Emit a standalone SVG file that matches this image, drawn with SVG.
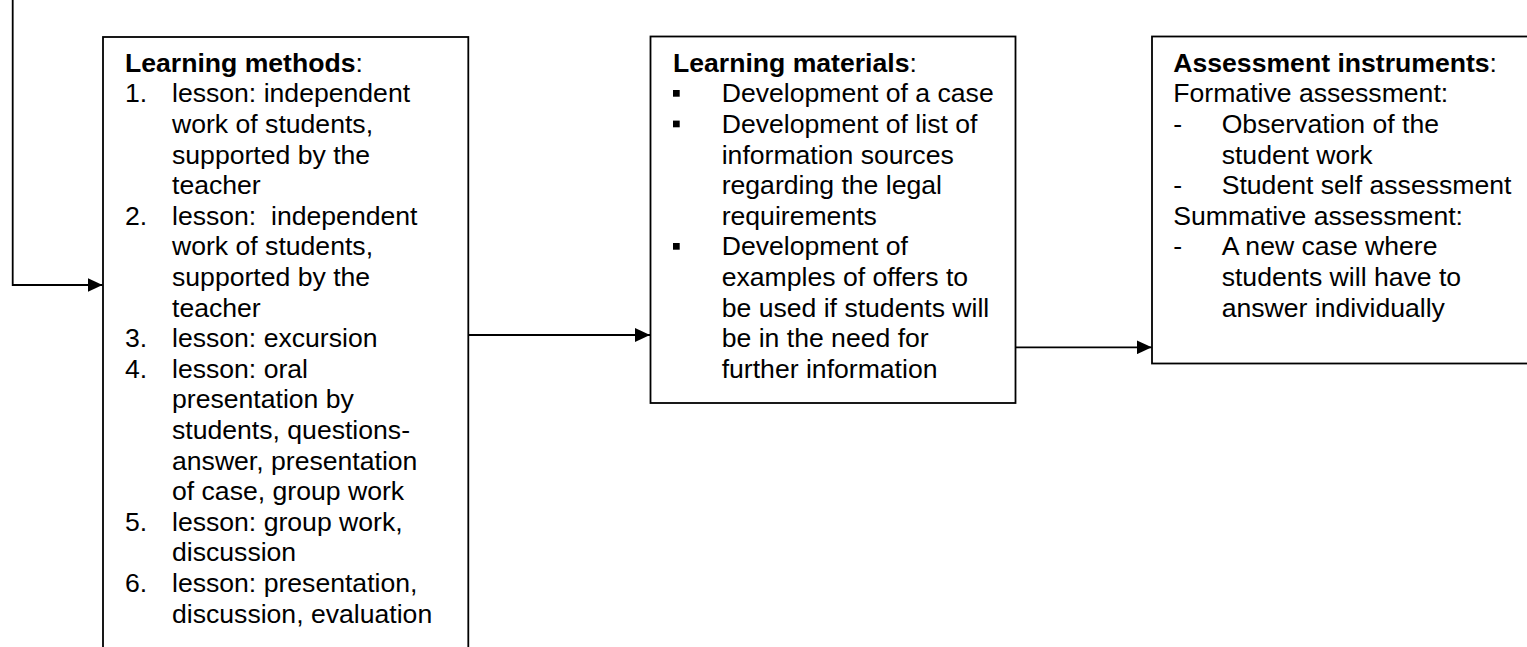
<svg xmlns="http://www.w3.org/2000/svg" width="1527" height="647" viewBox="0 0 1527 647">
<style>
.box{fill:#fff;stroke:#000;stroke-width:1.8}
.ln{fill:none;stroke:#000;stroke-width:1.8}
text{font-family:"Liberation Sans",Arial,sans-serif;font-size:26.6px;fill:#000}
.b{font-weight:bold}
.bul{fill:#000}
</style>
<defs>
<marker id="arr" markerWidth="15" markerHeight="14" refX="15" refY="7" orient="auto" markerUnits="userSpaceOnUse">
<path d="M0,0 L15,7 L0,14 Z" fill="#000"/>
</marker>
</defs>
<g id="connectors">
<path class="ln" d="M12.7,0 V285 H102.5" marker-end="url(#arr)"/>
<path class="ln" d="M468.3,335 H650" marker-end="url(#arr)"/>
<path class="ln" d="M1015.5,347.3 H1151.7" marker-end="url(#arr)"/>
</g>
<g id="learning-methods">
<rect class="box" x="103" y="37" width="365.3" height="640"/>
<text x="125" y="71.7"><tspan class="b">Learning methods</tspan>:</text>
<text x="125" y="102.3">1.</text><text x="172" y="102.3">lesson: independent</text>
<text x="172" y="132.9">work of students,</text>
<text x="172" y="163.5">supported by the</text>
<text x="172" y="194.1">teacher</text>
<text x="125" y="224.7">2.</text><text x="172" y="224.7" xml:space="preserve">lesson:  independent</text>
<text x="172" y="255.3">work of students,</text>
<text x="172" y="285.9">supported by the</text>
<text x="172" y="316.5">teacher</text>
<text x="125" y="347.1">3.</text><text x="172" y="347.1">lesson: excursion</text>
<text x="125" y="377.7">4.</text><text x="172" y="377.7">lesson: oral</text>
<text x="172" y="408.3">presentation by</text>
<text x="172" y="438.9">students, questions-</text>
<text x="172" y="469.5">answer, presentation</text>
<text x="172" y="500.1">of case, group work</text>
<text x="125" y="530.7">5.</text><text x="172" y="530.7">lesson: group work,</text>
<text x="172" y="561.3">discussion</text>
<text x="125" y="591.9">6.</text><text x="172" y="591.9">lesson: presentation,</text>
<text x="172" y="622.5">discussion, evaluation</text>
</g>
<g id="learning-materials">
<rect class="box" x="650.5" y="36.5" width="365" height="366.5"/>
<text x="673" y="71.7"><tspan class="b">Learning materials</tspan>:</text>
<rect class="bul" x="673" y="90" width="6.7" height="6.7"/>
<text x="721.7" y="102.3">Development of a case</text>
<rect class="bul" x="673" y="120.6" width="6.7" height="6.7"/>
<text x="721.7" y="132.9">Development of list of</text>
<text x="721.7" y="163.5">information sources</text>
<text x="721.7" y="194.1">regarding the legal</text>
<text x="721.7" y="224.7">requirements</text>
<rect class="bul" x="673" y="243" width="6.7" height="6.7"/>
<text x="721.7" y="255.3">Development of</text>
<text x="721.7" y="285.9">examples of offers to</text>
<text x="721.7" y="316.5">be used if students will</text>
<text x="721.7" y="347.1">be in the need for</text>
<text x="721.7" y="377.7">further information</text>
</g>
<g id="assessment-instruments">
<rect class="box" x="1152" y="36.5" width="400" height="327"/>
<text x="1173.3" y="71.7"><tspan class="b">Assessment instruments</tspan>:</text>
<text x="1173.3" y="102.3">Formative assessment:</text>
<text x="1173.3" y="132.9">-</text><text x="1221.7" y="132.9">Observation of the</text>
<text x="1221.7" y="163.5">student work</text>
<text x="1173.3" y="194.1">-</text><text x="1221.7" y="194.1">Student self assessment</text>
<text x="1173.3" y="224.7">Summative assessment:</text>
<text x="1173.3" y="255.3">-</text><text x="1221.7" y="255.3">A new case where</text>
<text x="1221.7" y="285.9">students will have to</text>
<text x="1221.7" y="316.5">answer individually</text>
</g>
</svg>
